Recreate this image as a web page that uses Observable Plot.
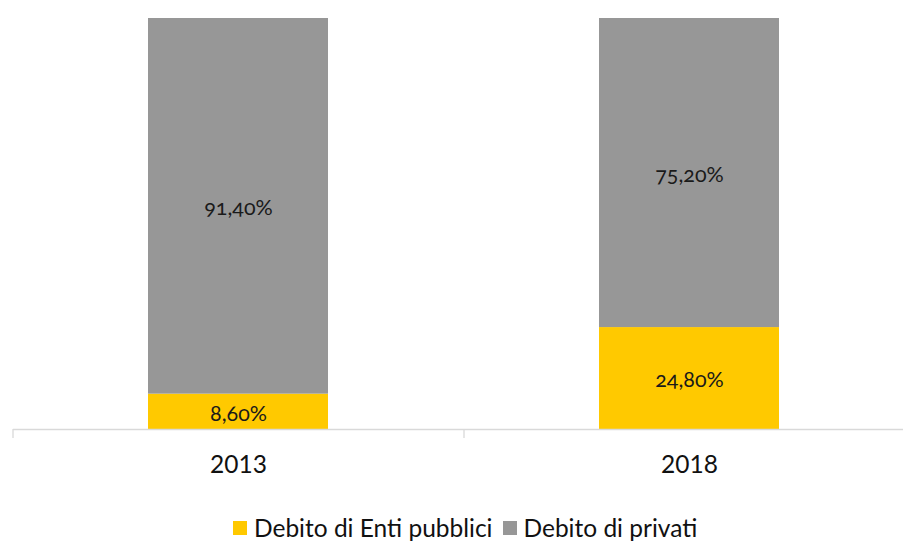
<!DOCTYPE html>
<html>
<head>
<meta charset="utf-8">
<script src="https://cdn.jsdelivr.net/npm/d3@7"></script>
<script src="https://cdn.jsdelivr.net/npm/@observablehq/plot@0.6"></script>
<style>
  html, body { margin: 0; padding: 0; background: #fff; }
  #wrap { position: relative; width: 903px; height: 541px; overflow: hidden; }
  #legend { position: absolute; left: 233px; top: 513px; display: flex; align-items: center;
    font-family: Lato, "Noto Sans", sans-serif; font-size: 24.5px; line-height: 30px; color: #111; white-space: nowrap; }
  .sw { width: 14px; height: 14px; display: inline-block; margin-right: 7px; }
  .item { display: flex; align-items: center; margin-right: 10px; }
</style>
</head>
<body>
<div id="wrap"><div id="chart"></div><div id="legend"></div></div>
<script>
const years = ["2013", "2018"];
const seriesNames = ["Debito di Enti pubblici", "Debito di privati"];
const pubblici = [8.6, 24.8];
const privati = [91.4, 75.2];
const colors = ["#FFC900", "#979797"];

const data = [];
years.forEach((y, i) => {
  data.push({year: y, series: seriesNames[0], value: pubblici[i]});
  data.push({year: y, series: seriesNames[1], value: privati[i]});
});

const fmt = v => v.toFixed(2).replace(".", ",") + "%";
const xRange = [13, 915];
const step = (xRange[1] - xRange[0]) / years.length;

const chart = Plot.plot({
  width: 903,
  height: 500,
  marginTop: 18,
  marginBottom: 71,
  marginLeft: 13,
  marginRight: 0,
  x: {domain: years, range: xRange, paddingInner: 0.6, paddingOuter: 0.3},
  y: {domain: [0, 100], axis: null},
  color: {domain: seriesNames, range: colors},
  marks: [
    Plot.barY(data, Plot.stackY({x: "year", y: "value", z: "series", fill: "series", order: seriesNames})),
    Plot.text(data, Plot.stackY({x: "year", y: "value", z: "series", order: seriesNames, text: d => fmt(d.value),
      dy: 2, fontSize: 21.5, fill: "#1a1a1a", fontFamily: "Lato, 'Open Sans', sans-serif", className: "barlabel"})),
    Plot.ruleY([0], {stroke: "#d9d9d9", strokeWidth: 1.3}),
    Plot.axisX({tickSize: 9, tickFormat: () => "", dx: -step / 2, stroke: "#d9d9d9", strokeWidth: 1.3, label: null}),
    Plot.axisX({tickSize: 0, tickPadding: 26, fontSize: 24.5, label: null, fill: "#111",
      fontFamily: "Lato, 'Noto Sans', sans-serif"})
  ]
});
chart.querySelectorAll(".barlabel, .barlabel text").forEach(el => {
  el.style.fontFeatureSettings = "'onum' 1";
});
document.getElementById("chart").appendChild(chart);

const legend = document.getElementById("legend");
seriesNames.forEach((n, i) => {
  const it = document.createElement("span");
  it.className = "item";
  const sw = document.createElement("span");
  sw.className = "sw";
  sw.style.background = colors[i];
  it.appendChild(sw);
  it.appendChild(document.createTextNode(n));
  legend.appendChild(it);
});
</script>
</body>
</html>
